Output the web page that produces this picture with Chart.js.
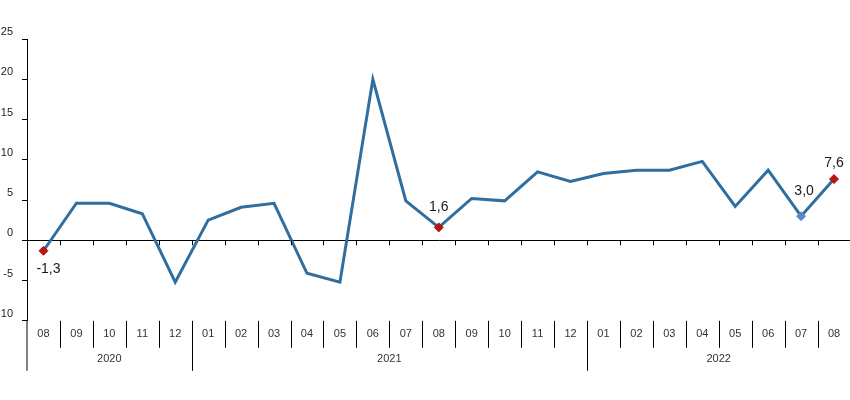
<!DOCTYPE html>
<html>
<head>
<meta charset="utf-8">
<script src="https://cdn.jsdelivr.net/npm/chart.js@4/dist/chart.umd.min.js"></script>
<style>
  html, body { margin: 0; padding: 0; background: #fff; overflow: hidden; }
  #wrap { width: 856px; height: 400px; }
</style>
</head>
<body>
<div id="wrap"><canvas id="chart" width="856" height="400"></canvas></div>
<script>
/* data */
var months = ['08', '09', '10', '11', '12',
              '01', '02', '03', '04', '05', '06', '07', '08', '09', '10', '11', '12',
              '01', '02', '03', '04', '05', '06', '07', '08'];
var years  = ['2020', '2020', '2020', '2020', '2020',
              '2021', '2021', '2021', '2021', '2021', '2021', '2021', '2021', '2021', '2021', '2021', '2021',
              '2022', '2022', '2022', '2022', '2022', '2022', '2022', '2022'];
var values = [-1.3, 4.6, 4.6, 3.3, -5.2,
              2.5, 4.1, 4.6, -4.1, -5.2, 20.0, 4.9, 1.6, 5.2, 4.9, 8.5, 7.3,
              8.3, 8.7, 8.7, 9.8, 4.2, 8.7, 3.0, 7.6];
var yTicks = [-10, -5, 0, 5, 10, 15, 20, 25];
var labelled = [0, 12, 23, 24];   // points that carry a marker and value label

/* marker look per labelled point */
var markerColor = { 0: '#b81414', 12: '#b81414', 23: '#5a8ac6', 24: '#b81414' };
var labelShift  = { 0: [5, 18], 12: [0, -20], 23: [3, -25], 24: [0, -16] };

var pointRadius = values.map(function (v, i) { return labelled.indexOf(i) >= 0 ? 4.5 : 0; });
var pointColor  = values.map(function (v, i) { return markerColor[i] || '#2f6e9e'; });

function fmt(v) { return v.toFixed(1).replace('.', ','); }

/* axis furniture: month separators, year groups, zero-line ticks, value labels */
var decor = {
    id: 'decor',
    afterDraw: function (chart) {
        var ctx = chart.ctx;
        var xs = chart.scales.x, ys = chart.scales.y;
        var area = chart.chartArea;
        var y0 = ys.getPixelForValue(0);
        var step = xs.getPixelForValue(1) - xs.getPixelForValue(0);

        ctx.save();
        ctx.strokeStyle = '#000';
        ctx.lineWidth = 1;

        // left axis continues down through the label rows
        ctx.beginPath();
        ctx.moveTo(area.left, area.bottom);
        ctx.lineTo(area.left, area.bottom + 50);
        ctx.stroke();

        for (var i = 1; i < months.length; i++) {
            var bx = Math.round(xs.getPixelForValue(i) - step / 2) + 0.5;
            // small ticks under zero line
            ctx.beginPath();
            ctx.moveTo(bx, y0);
            ctx.lineTo(bx, y0 + 5);
            ctx.stroke();
            // separators between month labels, longer between years
            var len = years[i] !== years[i - 1] ? 50 : 27;
            ctx.beginPath();
            ctx.moveTo(bx, area.bottom);
            ctx.lineTo(bx, area.bottom + len);
            ctx.stroke();
        }

        // year labels centred on their group
        ctx.fillStyle = '#333';
        ctx.font = '11px "Liberation Sans", Arial, sans-serif';
        ctx.textAlign = 'center';
        ctx.textBaseline = 'middle';
        var start = 0;
        for (var j = 1; j <= years.length; j++) {
            if (j === years.length || years[j] !== years[start]) {
                var cx = (xs.getPixelForValue(start) + xs.getPixelForValue(j - 1)) / 2;
                ctx.fillText(years[start], cx, area.bottom + 38);
                start = j;
            }
        }

        // value labels
        ctx.fillStyle = '#1a1a1a';
        ctx.font = '14px "Liberation Sans", Arial, sans-serif';
        var meta = chart.getDatasetMeta(0);
        labelled.forEach(function (idx) {
            var pt = meta.data[idx];
            var s = labelShift[idx];
            ctx.fillText(fmt(values[idx]), pt.x + s[0], pt.y + s[1]);
        });
        ctx.restore();
    }
};

new Chart(document.getElementById('chart').getContext('2d'), {
    type: 'line',
    data: {
        labels: months,
        datasets: [{
            data: values,
            borderColor: '#2f6e9e',
            borderWidth: 3,
            tension: 0,
            pointStyle: 'rectRot',
            pointRadius: pointRadius,
            pointHoverRadius: pointRadius,
            pointBackgroundColor: pointColor,
            pointBorderColor: pointColor,
            pointBorderWidth: 1
        }]
    },
    options: {
        responsive: false,
        animation: false,
        devicePixelRatio: 1,
        layout: { padding: { top: 39, right: 2, bottom: 52, left: 0 } },
        plugins: {
            legend: { display: false },
            tooltip: { enabled: false }
        },
        scales: {
            x: {
                type: 'category',
                offset: true,
                grid: { display: false, drawTicks: false },
                border: { display: false },
                ticks: {
                    color: '#333',
                    padding: 7,
                    maxRotation: 0,
                    autoSkip: false,
                    font: { family: '"Liberation Sans", Arial, sans-serif', size: 11 }
                }
            },
            y: {
                min: -10,
                max: 25,
                afterFit: function (scale) { scale.width = 27; },
                afterBuildTicks: function (scale) {
                    scale.ticks = yTicks.map(function (v) { return { value: v }; });
                },
                grid: {
                    color: function (c) { return c.tick && c.tick.value === 0 ? '#000' : 'rgba(0,0,0,0)'; },
                    tickColor: '#000',
                    tickLength: 5,
                    lineWidth: 1
                },
                border: { display: true, color: '#000', width: 1 },
                ticks: {
                    color: '#222',
                    padding: 9,
                    labelOffset: -7,
                    font: { family: '"Liberation Sans", Arial, sans-serif', size: 11 }
                }
            }
        }
    },
    plugins: [decor]
});
</script>
</body>
</html>
